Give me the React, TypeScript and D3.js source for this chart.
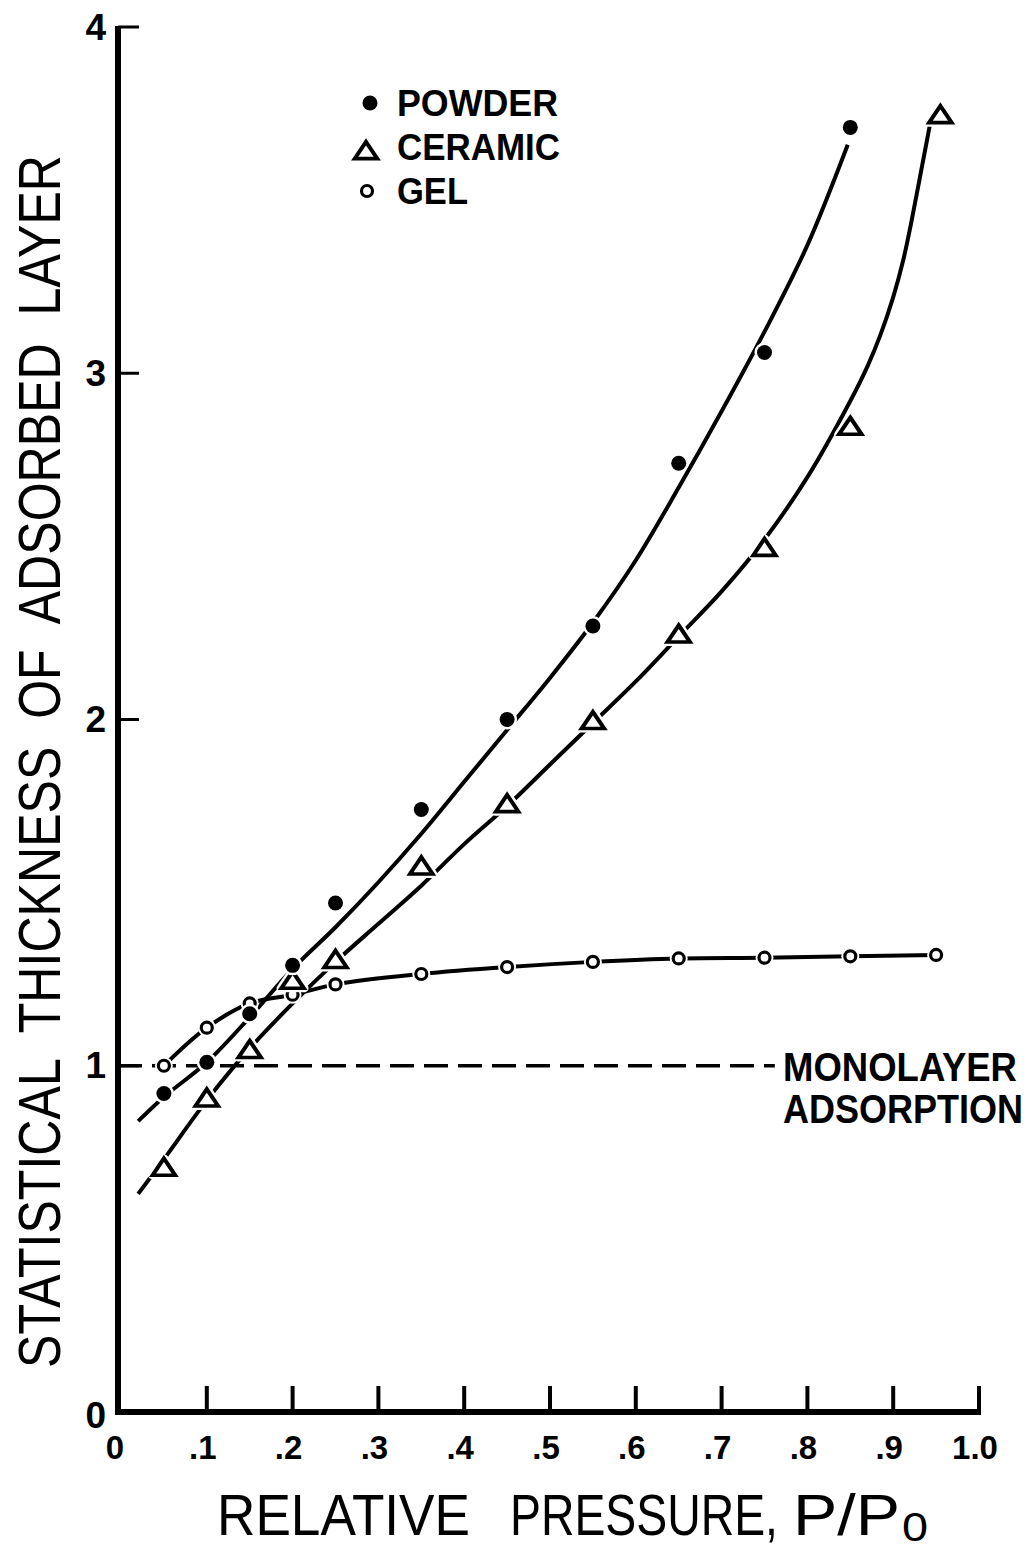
import * as d3 from "d3";

// ---- data ----
const xTickValues = [0, 0.1, 0.2, 0.3, 0.4, 0.5, 0.6, 0.7, 0.8, 0.9, 1.0];
const xTickLabels = ["0", ".1", ".2", ".3", ".4", ".5", ".6", ".7", ".8", ".9", "1.0"];
const yTickValues = [0, 1, 2, 3, 4];
const yTickLabels = ["0", "1", "2", "3", "4"];

const powderX = [0.05, 0.1, 0.15, 0.2, 0.25, 0.35, 0.45, 0.55, 0.65, 0.75, 0.85];
const powderY = [0.92, 1.01, 1.15, 1.29, 1.47, 1.74, 2.0, 2.27, 2.74, 3.06, 3.71];

const ceramicX = [0.05, 0.1, 0.15, 0.2, 0.25, 0.35, 0.45, 0.55, 0.65, 0.75, 0.85, 0.955];
const ceramicY = [0.70, 0.90, 1.04, 1.24, 1.30, 1.57, 1.75, 1.99, 2.24, 2.49, 2.84, 3.74];

const gelX = [0.05, 0.1, 0.15, 0.2, 0.25, 0.35, 0.45, 0.55, 0.65, 0.75, 0.85, 0.95];
const gelY = [1.0, 1.11, 1.18, 1.205, 1.235, 1.265, 1.285, 1.30, 1.31, 1.312, 1.316, 1.32];

// hand-drawn smooth curves
const powderCurveX = [0.02, 0.05, 0.1, 0.15, 0.2, 0.25, 0.3, 0.35, 0.4, 0.45, 0.5, 0.55, 0.6, 0.65, 0.7, 0.75, 0.8, 0.847];
const powderCurveY = [0.84, 0.91, 1.01, 1.14, 1.28, 1.40, 1.53, 1.67, 1.82, 1.97, 2.12, 2.28, 2.46, 2.67, 2.89, 3.12, 3.37, 3.66];

const ceramicCurveX = [0.02, 0.05, 0.1, 0.15, 0.2, 0.25, 0.3, 0.35, 0.4, 0.45, 0.5, 0.55, 0.6, 0.65, 0.7, 0.75, 0.8, 0.85, 0.87, 0.885, 0.9, 0.912, 0.923, 0.933, 0.943];
const ceramicCurveY = [0.63, 0.73, 0.90, 1.05, 1.18, 1.30, 1.41, 1.52, 1.64, 1.75, 1.87, 1.99, 2.11, 2.24, 2.37, 2.52, 2.70, 2.92, 3.02, 3.11, 3.22, 3.33, 3.46, 3.59, 3.72];

const monolayerLevel = 1;
const monolayerEnd = 0.762;

const legendLabels = ["POWDER", "CERAMIC", "GEL"];

const W = 1034;
const H = 1550;

const x = d3.scaleLinear().domain([0, 1]).range([121, 979]);
const y = d3.scaleLinear().domain([0, 4]).range([1412, 27]);

const zip = (xs: number[], ys: number[]) => xs.map((v, i) => [v, ys[i]] as [number, number]);

const line = d3
  .line<[number, number]>()
  .x((d) => x(d[0]))
  .y((d) => y(d[1]))
  .curve(d3.curveCatmullRom.alpha(0.5));

const triPath = d3.symbol(d3.symbolTriangle, 200)() as string;

const INK = "#000";
const FONT = "'Liberation Sans', Arial, Helvetica, sans-serif";

// horizontally condensed text (lettering in the original is narrower than Arial)
function Narrow({
  x: tx,
  y: ty,
  sx,
  width,
  size,
  bold,
  rotate,
  anchor,
  children,
}: {
  x: number;
  y: number;
  sx: number;
  width: number;
  size: number;
  bold?: boolean;
  rotate?: boolean;
  anchor?: "start" | "middle" | "end";
  children: string;
}) {
  return (
    <text
      transform={`translate(${tx},${ty})${rotate ? " rotate(-90)" : ""} scale(${sx},1)`}
      textAnchor={anchor ?? "start"}
      fontFamily={FONT}
      fontWeight={bold ? "bold" : "normal"}
      fontSize={size}
      textLength={width / sx}
      lengthAdjust="spacingAndGlyphs"
      style={{ whiteSpace: "pre" }}
      fill={INK}
    >
      {children}
    </text>
  );
}

function Dot({ cx, cy, halo }: { cx: number; cy: number; halo?: boolean }) {
  return (
    <g>
      {halo && <circle cx={cx} cy={cy} r={10} fill="#fff" />}
      <circle cx={cx} cy={cy} r={7.5} fill={INK} />
    </g>
  );
}

function OpenDot({ cx, cy, halo }: { cx: number; cy: number; halo?: boolean }) {
  return (
    <g>
      {halo && <circle cx={cx} cy={cy} r={9} fill="#fff" />}
      <circle cx={cx} cy={cy} r={5.5} fill="#fff" stroke={INK} strokeWidth={3.2} />
    </g>
  );
}

function Tri({ cx, cy, halo }: { cx: number; cy: number; halo?: boolean }) {
  return (
    <g transform={`translate(${cx},${cy}) scale(1.05,0.9)`}>
      {halo && <path d={triPath} fill="#fff" stroke="#fff" strokeWidth={9} strokeLinejoin="round" />}
      <path d={triPath} fill="#fff" stroke={INK} strokeWidth={4} strokeLinejoin="miter" />
    </g>
  );
}

export default function App() {
  const x0 = x(0) - 3;
  const y0 = y(0);

  return (
    <svg
      width={W}
      height={H}
      viewBox={`0 0 ${W} ${H}`}
      style={{ position: "absolute", left: 0, top: 0, background: "#fff" }}
    >
      <rect width={W} height={H} fill="#fff" />

      {/* axes */}
      <line x1={x0} x2={x0} y1={y(4) - 1} y2={y0 + 3} stroke={INK} strokeWidth={6} />
      <line x1={x0 - 3} x2={x(1) + 2} y1={y0} y2={y0} stroke={INK} strokeWidth={6} />

      {/* y ticks */}
      {yTickValues.map((v, i) => (
        <g key={`yt${i}`}>
          {v > 0 && (
            <line x1={x0} x2={x0 + 21} y1={y(v)} y2={y(v)} stroke={INK} strokeWidth={3} />
          )}
          <text
            x={x0 - 12}
            y={y(v) + (v === 0 ? 3 : 0)}
            textAnchor="end"
            dominantBaseline="central"
            fontFamily={FONT}
            fontWeight="bold"
            fontSize={37}
            fill={INK}
          >
            {yTickLabels[i]}
          </text>
        </g>
      ))}

      {/* x ticks */}
      {xTickValues.map((v, i) => (
        <g key={`xt${i}`}>
          {v > 0 && (
            <line x1={x(v)} x2={x(v)} y1={y0} y2={y0 - 26} stroke={INK} strokeWidth={4} />
          )}
          <text
            x={x(v) - (v === 0 ? 6 : 4)}
            y={1459}
            textAnchor="middle"
            fontFamily={FONT}
            fontWeight="bold"
            fontSize={33}
            fill={INK}
          >
            {xTickLabels[i]}
          </text>
        </g>
      ))}

      {/* monolayer reference */}
      <line
        x1={x0}
        x2={x(monolayerEnd)}
        y1={y(monolayerLevel)}
        y2={y(monolayerLevel)}
        stroke={INK}
        strokeWidth={3.5}
        strokeDasharray="24 10"
      />
      <Narrow x={783} y={y(monolayerLevel) + 15} sx={0.86} width={234} size={41} bold>
        MONOLAYER
      </Narrow>
      <Narrow x={783} y={y(monolayerLevel) + 57} sx={0.84} width={240} size={41} bold>
        ADSORPTION
      </Narrow>

      {/* curves */}
      <path d={line(zip(powderCurveX, powderCurveY)) ?? ""} fill="none" stroke={INK} strokeWidth={4} />
      <path d={line(zip(ceramicCurveX, ceramicCurveY)) ?? ""} fill="none" stroke={INK} strokeWidth={4} />
      <path d={line(zip(gelX, gelY)) ?? ""} fill="none" stroke={INK} strokeWidth={4} />

      {/* markers */}
      {gelX.map((v, i) => (
        <OpenDot key={`g${i}`} cx={x(v)} cy={y(gelY[i])} halo />
      ))}
      {ceramicX.map((v, i) => (
        <Tri key={`c${i}`} cx={x(v)} cy={y(ceramicY[i])} halo />
      ))}
      {powderX.map((v, i) => (
        <Dot key={`p${i}`} cx={x(v)} cy={y(powderY[i])} halo />
      ))}

      {/* legend */}
      <Dot cx={370} cy={103} />
      <Tri cx={366} cy={153} />
      <OpenDot cx={367} cy={191} />
      {legendLabels.map((t, i) => (
        <Narrow
          key={t}
          x={397}
          y={116 + i * 44}
          sx={[0.96, 0.94, 0.93][i]}
          width={[161, 163, 71][i]}
          size={37}
          bold
        >
          {t}
        </Narrow>
      ))}

      {/* y title */}
      <Narrow x={60} y={(1368 + 155) / 2} sx={0.82} width={1213} size={60} rotate anchor="middle">
        {"STATISTICAL  THICKNESS  OF  ADSORBED  LAYER"}
      </Narrow>

      {/* x title */}
      <Narrow x={217} y={1535} sx={0.9} width={253} size={58}>RELATIVE</Narrow>
      <Narrow x={510} y={1535} sx={0.8} width={268} size={58}>PRESSURE,</Narrow>
      <Narrow x={793} y={1535} sx={1} width={107} size={58}>P/P</Narrow>
      <Narrow x={902} y={1541} sx={0.85} width={26} size={40}>0</Narrow>
    </svg>
  );
}
